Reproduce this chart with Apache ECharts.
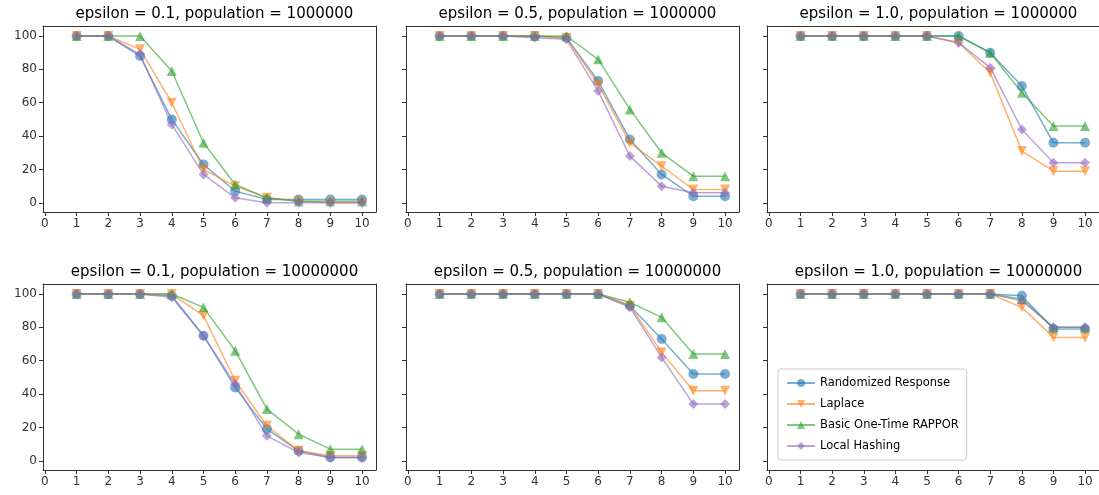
<!DOCTYPE html>
<html>
<head>
<meta charset="UTF-8">
<script src="https://cdn.jsdelivr.net/npm/echarts@6/dist/echarts.min.js"></script>
<style>*{margin:0;padding:0}#main{width:1099px;height:495px;background:#fff}</style>
</head>
<body>
<div id="main"></div>
<script>
var xs = [1,2,3,4,5,6,7,8,9,10];
var xTicks = [0,1,2,3,4,5,6,7,8,9,10];
var yTicks = [0,20,40,60,80,100];
var names = ['Randomized Response','Laplace','Basic One-Time RAPPOR','Local Hashing'];
var titles = ['epsilon = 0.1, population = 1000000','epsilon = 0.5, population = 1000000','epsilon = 1.0, population = 1000000',
              'epsilon = 0.1, population = 10000000','epsilon = 0.5, population = 10000000','epsilon = 1.0, population = 10000000'];
// each panel: [RR, Laplace, RAPPOR, LH]
var p1 = [[100,100,88,50,23,7,2,2,2,2],[100,100,92,60,20,10,3,1,0,0],[100,100,100,79,36,11,3,1,1,1],[100,100,89,47,17,3,0,0,0,0]];
var p2 = [[100,100,100,100,99,73,38,17,4,4],[100,100,100,100,99,71,36,22,8,8],[100,100,100,100,100,86,56,30,16,16],[100,100,100,99,98,67,28,10,6,6]];
var p3 = [[100,100,100,100,100,100,90,70,36,36],[100,100,100,100,100,96,78,31,19,19],[100,100,100,100,100,100,90,66,46,46],[100,100,100,100,100,96,81,44,24,24]];
var p4 = [[100,100,100,99,75,44,19,6,2,2],[100,100,100,100,87,48,21,6,3,3],[100,100,100,100,92,66,31,16,7,7],[100,100,100,98,75,46,15,5,2,2]];
var p5 = [[100,100,100,100,100,100,93,73,52,52],[100,100,100,100,100,100,93,65,42,42],[100,100,100,100,100,100,95,86,64,64],[100,100,100,100,100,100,92,62,34,34]];
var p6 = [[100,100,100,100,100,100,100,99,79,79],[100,100,100,100,100,100,100,92,74,74],[100,100,100,100,100,100,100,97,80,80],[100,100,100,100,100,100,100,96,80,80]];
var panels = [p1,p2,p3,p4,p5,p6];
var colors = ['#1f77b4','#ff7f0e','#2ca02c','#9467bd'];
var symbols = ['circle','triangle','triangle','diamond'];
var rotates = [0,180,0,0];

var lefts = [43,406,767], tops = [26,284], W = 333, H = 186;
var grid = [], xAxis = [], yAxis = [], series = [], title = [];
var font = 'DejaVu Sans';
var line = {color: '#333', width: 1};
for (var i = 0; i < 6; i++) {
  var c = i % 3, r = Math.floor(i / 3);
  grid.push({left: lefts[c], top: tops[r], width: W, height: H});
  title.push({text: titles[i], left: lefts[c] + W / 2, top: tops[r] - 24, textAlign: 'center',
    textStyle: {fontFamily: font, fontSize: 15, fontWeight: 'normal', color: '#000'}});
  xAxis.push({type: 'value', gridIndex: i, min: -0.06, max: 10.44, position: 'bottom',
    axisLine: {onZero: false, lineStyle: line}, splitLine: {show: false},
    axisTick: {show: true, length: 4, customValues: xTicks, lineStyle: line},
    axisLabel: {fontFamily: font, fontSize: 12, color: '#333', margin: 6, customValues: xTicks}});
  xAxis.push({type: 'value', gridIndex: i, min: -0.06, max: 10.44, position: 'top',
    axisLine: {onZero: false, lineStyle: line}, splitLine: {show: false},
    axisTick: {show: false}, axisLabel: {show: false}});
  yAxis.push({type: 'value', gridIndex: i, min: -5.5, max: 106, position: 'left',
    axisLine: {show: true, onZero: false, lineStyle: line}, splitLine: {show: false},
    axisTick: {show: true, length: 4, customValues: yTicks, lineStyle: line},
    axisLabel: {show: c === 0, fontFamily: font, fontSize: 12, color: '#333', margin: 6, customValues: yTicks}});
  yAxis.push({type: 'value', gridIndex: i, min: -5.5, max: 106, position: 'right',
    axisLine: {show: true, onZero: false, lineStyle: line}, splitLine: {show: false},
    axisTick: {show: false}, axisLabel: {show: false}});
  for (var s = 0; s < 4; s++) {
    series.push({name: names[s], type: 'line', xAxisIndex: 2 * i, yAxisIndex: 2 * i,
      data: xs.map(function (x, k) { return [x, panels[i][s][k]]; }),
      symbol: symbols[s], symbolRotate: rotates[s], symbolSize: 10, showAllSymbol: true,
      lineStyle: {color: colors[s], width: 1.5, opacity: 0.6},
      itemStyle: {color: colors[s], opacity: 0.6}});
  }
}

var chart = echarts.init(document.getElementById('main'));
chart.setOption({
  animation: false,
  title: title,
  grid: grid, xAxis: xAxis, yAxis: yAxis, series: series,
  legend: {data: names, orient: 'vertical', left: 778, top: 369, itemGap: 9, itemWidth: 28, itemHeight: 10,
    borderColor: '#ccc', borderWidth: 1, borderRadius: 3, padding: [8, 8],
    textStyle: {fontFamily: font, fontSize: 11.5, color: '#000'}}
});
</script>
</body>
</html>
